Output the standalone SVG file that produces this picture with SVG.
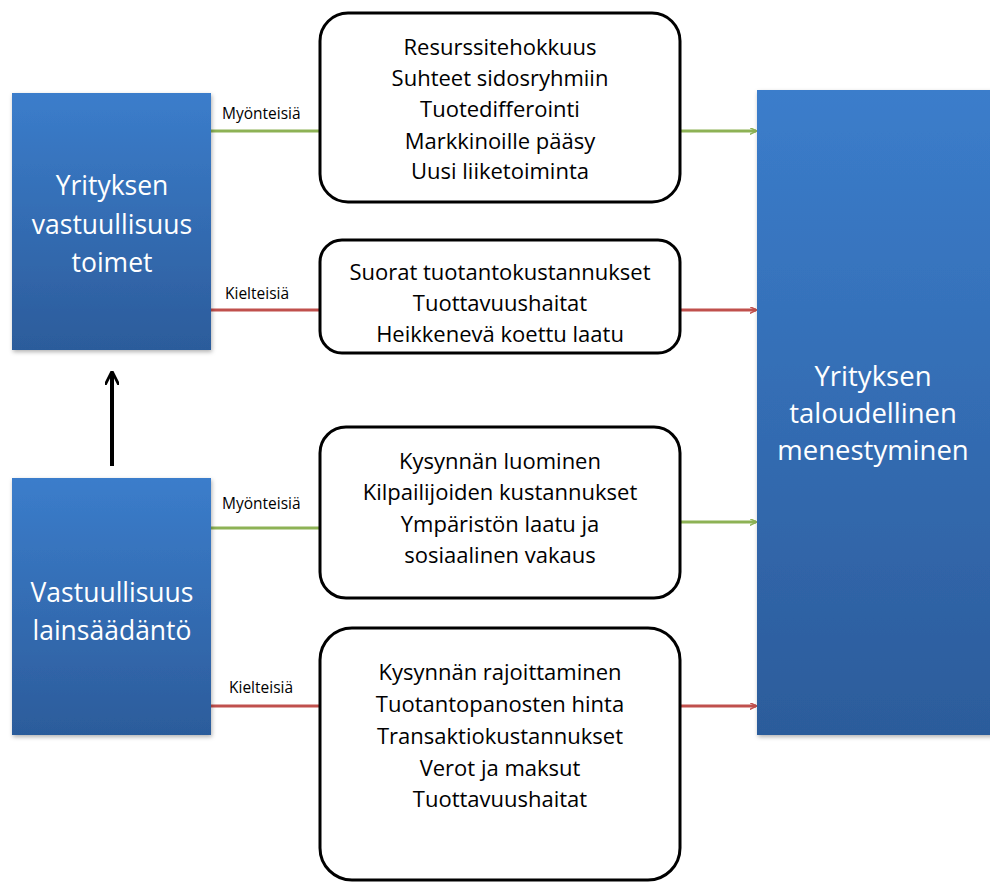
<svg xmlns="http://www.w3.org/2000/svg" width="990" height="883" viewBox="0 0 990 883">
<defs>
<linearGradient id="blue" x1="0" y1="0" x2="0" y2="1">
<stop offset="0" stop-color="#3B7DCB"/>
<stop offset="1" stop-color="#2C5C9B"/>
</linearGradient>
<filter id="sh" x="-5%" y="-5%" width="115%" height="115%">
<feDropShadow dx="1" dy="2" stdDeviation="2" flood-color="#000" flood-opacity="0.3"/>
</filter>
<marker id="ag" viewBox="0 0 10 10" refX="9" refY="5" markerWidth="7" markerHeight="7" markerUnits="userSpaceOnUse" orient="auto"><path d="M0,0 L10,5 L0,10" fill="none" stroke="#8DB255" stroke-width="2"/></marker>
<marker id="ar" viewBox="0 0 10 10" refX="9" refY="5" markerWidth="7" markerHeight="7" markerUnits="userSpaceOnUse" orient="auto"><path d="M0,0 L10,5 L0,10" fill="none" stroke="#C0504D" stroke-width="2"/></marker>
<marker id="ab" viewBox="0 0 10 10" refX="8" refY="5" markerWidth="14" markerHeight="14" markerUnits="userSpaceOnUse" orient="auto"><path d="M0,0 L10,5 L0,10" fill="none" stroke="#000" stroke-width="2"/></marker>
</defs>
<style>
.bb{fill:url(#blue);filter:url(#sh)}
.wt{fill:#fff;font-family:"Open Sans","Liberation Sans",sans-serif;font-size:26.5px;text-anchor:middle}
.rb{fill:#fff;stroke:#000;stroke-width:3}
.bt{fill:#000;font-family:"Open Sans","Liberation Sans",sans-serif;font-size:22px;text-anchor:middle}
.lb{fill:#000;font-family:"Open Sans","Liberation Sans",sans-serif;font-size:15.5px}
.g{stroke:#8DB255;stroke-width:3;fill:none}
.r{stroke:#C0504D;stroke-width:3;fill:none}
</style>
<rect width="990" height="883" fill="#fff"/>
<g id="connectors">
<line class="g" x1="211" y1="131" x2="320" y2="131"/>
<line class="r" x1="211" y1="310" x2="320" y2="310"/>
<line class="g" x1="211" y1="528" x2="320" y2="528"/>
<line class="r" x1="211" y1="706" x2="320" y2="706"/>
<line class="g" x1="680" y1="131" x2="756" y2="131" marker-end="url(#ag)"/>
<line class="r" x1="680" y1="310" x2="756" y2="310" marker-end="url(#ar)"/>
<line class="g" x1="680" y1="522" x2="756" y2="522" marker-end="url(#ag)"/>
<line class="r" x1="680" y1="706" x2="756" y2="706" marker-end="url(#ar)"/>
<line x1="112" y1="466" x2="112" y2="374" stroke="#000" stroke-width="4" marker-end="url(#ab)"/>
<text class="lb" x="222" y="119">Myönteisiä</text>
<text class="lb" x="225" y="299">Kielteisiä</text>
<text class="lb" x="222" y="509">Myönteisiä</text>
<text class="lb" x="229" y="693">Kielteisiä</text>
</g>
<g id="csr">
<rect class="bb" x="12" y="93" width="199" height="257"/>
<text class="wt" x="112" y="195">Yrityksen</text>
<text class="wt" x="112" y="234">vastuullisuus</text>
<text class="wt" x="112" y="272">toimet</text>
</g>
<g id="law">
<rect class="bb" x="12" y="478" width="199" height="257"/>
<text class="wt" x="112" y="602">Vastuullisuus</text>
<text class="wt" x="112" y="640">lainsäädäntö</text>
</g>
<g id="success">
<rect class="bb" x="757" y="90" width="240" height="645"/>
<text class="wt" x="873" y="386" style="font-size:27.5px">Yrityksen</text>
<text class="wt" x="873" y="423" style="font-size:27.5px">taloudellinen</text>
<text class="wt" x="873" y="460" style="font-size:27.5px">menestyminen</text>
</g>
<g id="box1">
<rect class="rb" x="320" y="13" width="360" height="189" rx="28"/>
<text class="bt" x="500" y="55">Resurssitehokkuus</text>
<text class="bt" x="500" y="86">Suhteet sidosryhmiin</text>
<text class="bt" x="500" y="117">Tuotedifferointi</text>
<text class="bt" x="500" y="149">Markkinoille pääsy</text>
<text class="bt" x="500" y="179">Uusi liiketoiminta</text>
</g>
<g id="box2">
<rect class="rb" x="320" y="240" width="360" height="113" rx="22"/>
<text class="bt" x="500" y="280">Suorat tuotantokustannukset</text>
<text class="bt" x="500" y="311">Tuottavuushaitat</text>
<text class="bt" x="500" y="342">Heikkenevä koettu laatu</text>
</g>
<g id="box3">
<rect class="rb" x="320" y="427" width="360" height="171" rx="26"/>
<text class="bt" x="500" y="469">Kysynnän luominen</text>
<text class="bt" x="500" y="500">Kilpailijoiden kustannukset</text>
<text class="bt" x="500" y="532">Ympäristön laatu ja</text>
<text class="bt" x="500" y="563">sosiaalinen vakaus</text>
</g>
<g id="box4">
<rect class="rb" x="320" y="628" width="360" height="252" rx="32"/>
<text class="bt" x="500" y="680">Kysynnän rajoittaminen</text>
<text class="bt" x="500" y="712">Tuotantopanosten hinta</text>
<text class="bt" x="500" y="744">Transaktiokustannukset</text>
<text class="bt" x="500" y="776">Verot ja maksut</text>
<text class="bt" x="500" y="807">Tuottavuushaitat</text>
</g>
</svg>
